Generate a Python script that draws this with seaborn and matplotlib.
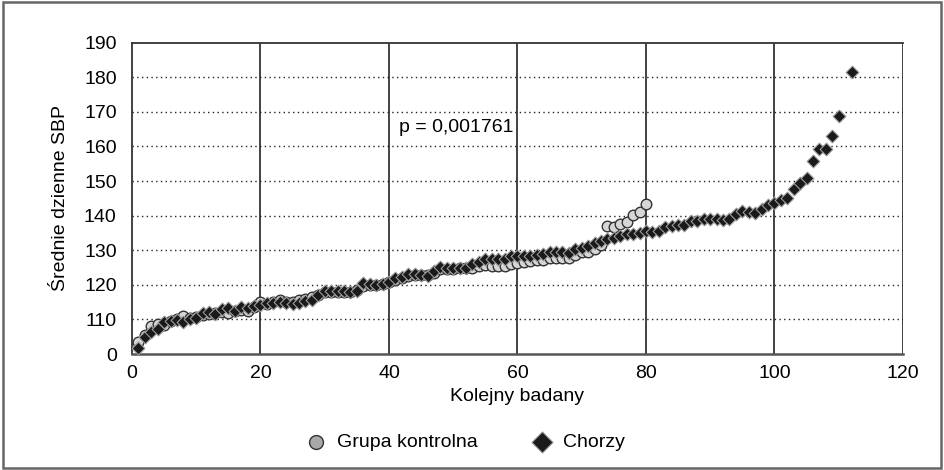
import matplotlib
matplotlib.use("Agg")
import matplotlib.pyplot as plt
import seaborn as sns
import pandas as pd
from matplotlib.patches import Rectangle

# Data
kontrolna_nr = list(range(1, 81))
kontrolna_sbp = [
    103.5, 105.5, 108.0, 108.8, 108.3, 109.5, 110.0, 111.0, 110.5, 110.8,
    111.2, 111.5, 111.8, 112.0, 111.8, 112.5, 112.8, 112.5, 113.5, 115.0,
    114.5, 115.0, 115.7, 115.0, 115.0, 115.5, 116.0, 116.5, 117.0, 117.8,
    118.0, 118.0, 118.0, 118.0, 118.5, 119.8, 120.0, 120.0, 120.2, 120.8,
    121.5, 122.0, 122.5, 122.8, 122.7, 122.8, 123.5, 124.5, 124.6, 124.7,
    124.8, 124.8, 125.0, 125.3, 125.8, 125.3, 125.4, 125.5, 126.0, 126.2,
    126.5, 127.0, 127.1, 127.1, 127.8, 127.8, 127.8, 127.8, 128.5, 129.4,
    129.6, 130.5, 131.5, 137.1, 136.8, 137.6, 138.3, 140.2, 141.1, 143.3,
]

chorzy_nr = list(range(1, 111)) + [112]
chorzy_sbp = [
    101.6, 104.9, 106.4, 107.3, 109.2, 109.4, 109.7, 109.3, 110.2, 110.4,
    111.9, 112.2, 111.7, 113.0, 113.2, 112.5, 113.7, 113.4, 114.0, 114.2,
    114.7, 114.7, 115.0, 114.7, 114.5, 114.7, 115.2, 115.7, 117.2, 118.3,
    118.3, 118.2, 118.2, 118.0, 118.2, 120.4, 120.2, 119.9, 120.1, 120.9,
    122.0, 122.3, 123.1, 123.1, 122.8, 122.5, 124.0, 125.2, 124.9, 124.9,
    124.9, 124.9, 125.9, 126.6, 127.4, 127.5, 127.5, 127.4, 128.3, 128.2,
    128.4, 128.3, 128.5, 129.0, 129.6, 129.4, 129.6, 129.2, 130.5, 130.6,
    131.3, 132.0, 132.8, 133.3, 133.4, 134.0, 134.7, 134.8, 135.0, 135.5,
    135.3, 135.5, 136.8, 137.1, 137.3, 137.4, 138.4, 138.4, 139.0, 139.1,
    138.9, 138.6, 139.1, 140.4, 141.4, 141.0, 140.8, 141.9, 143.0, 143.8,
    144.6, 145.0, 147.7, 149.3, 151.0, 155.7, 159.2, 159.2, 163.0, 168.8,
    181.6,
]

y_ticks = [100, 110, 120, 130, 140, 150, 160, 170, 180, 190]
y_labels = ["0", "110", "120", "130", "140", "150", "160", "170", "180", "190"]
x_ticks = [0, 20, 40, 60, 80, 100, 120]

df_k = pd.DataFrame({"Kolejny badany": kontrolna_nr, "SBP": kontrolna_sbp})
df_c = pd.DataFrame({"Kolejny badany": chorzy_nr, "SBP": chorzy_sbp})

sns.set_style("white")
plt.rcParams["font.family"] = ["Liberation Sans", "DejaVu Sans"]
plt.rcParams["text.color"] = "black"
plt.rcParams["axes.labelcolor"] = "black"
plt.rcParams["xtick.color"] = "black"
plt.rcParams["ytick.color"] = "black"

fig = plt.figure(figsize=(9.44, 4.70), dpi=100)
ax = fig.add_axes([0.1398, 0.2468, 0.8167, 0.6623])

sns.scatterplot(data=df_k, x="Kolejny badany", y="SBP", ax=ax, marker="o",
                s=58, color="#d6d6d6", edgecolor="#333333", linewidth=1.0,
                label="Grupa kontrolna", zorder=3)
sns.scatterplot(data=df_c, x="Kolejny badany", y="SBP", ax=ax, marker="D",
                s=42, color="#1a1a1a", edgecolor="#9a9a9a", linewidth=0.8,
                label="Chorzy", zorder=4)

ax.set_xlim(0, 120)
ax.set_ylim(100, 190)
ax.set_xticks(x_ticks)
ax.set_yticks(y_ticks)
ax.set_yticklabels(y_labels)
ax.tick_params(axis="both", labelsize=14, length=5, width=1, color="#333333",
               direction="out")
ax.tick_params(axis="x", pad=3)
ax.tick_params(axis="y", pad=6)

# grid: solid verticals, dotted horizontals
for xv in x_ticks[1:]:
    ax.axvline(xv, color="#222222", lw=1.2, zorder=1)
for yv in y_ticks[1:-1]:
    ax.axhline(yv, color="#222222", lw=1.0, ls=(0, (1, 2.4)), zorder=1)

for side in ["left", "bottom", "top"]:
    ax.spines[side].set_visible(True)
    ax.spines[side].set_color("#333333")
    ax.spines[side].set_linewidth(1.3)
ax.spines["right"].set_visible(False)
ax.spines["bottom"].set_color("#555555")
ax.spines["bottom"].set_linewidth(1.8)

ax.set_xlabel("Kolejny badany", fontsize=14, labelpad=4)
ax.set_ylabel("Średnie dzienne SBP", fontsize=14, labelpad=10.5)

ax.text(41.5, 165.4, "p = 0,001761", fontsize=14, va="center", ha="left",
        bbox=dict(facecolor="white", edgecolor="none", pad=1), zorder=5)

leg = ax.legend(loc="center", bbox_to_anchor=(0.4325, -0.283), ncol=2,
                frameon=False, fontsize=14, columnspacing=2.8,
                handlelength=1.0, handletextpad=0.58)
handles = leg.legend_handles
handles[0].set_sizes([100])
handles[0].set_facecolor("#a8a8a8")
handles[1].set_sizes([115])

fig.add_artist(Rectangle((0.003, 0.004), 0.994, 0.992, transform=fig.transFigure,
                         fill=False, edgecolor="#666666", linewidth=1.8))

fig.savefig("out.png", dpi=100)
